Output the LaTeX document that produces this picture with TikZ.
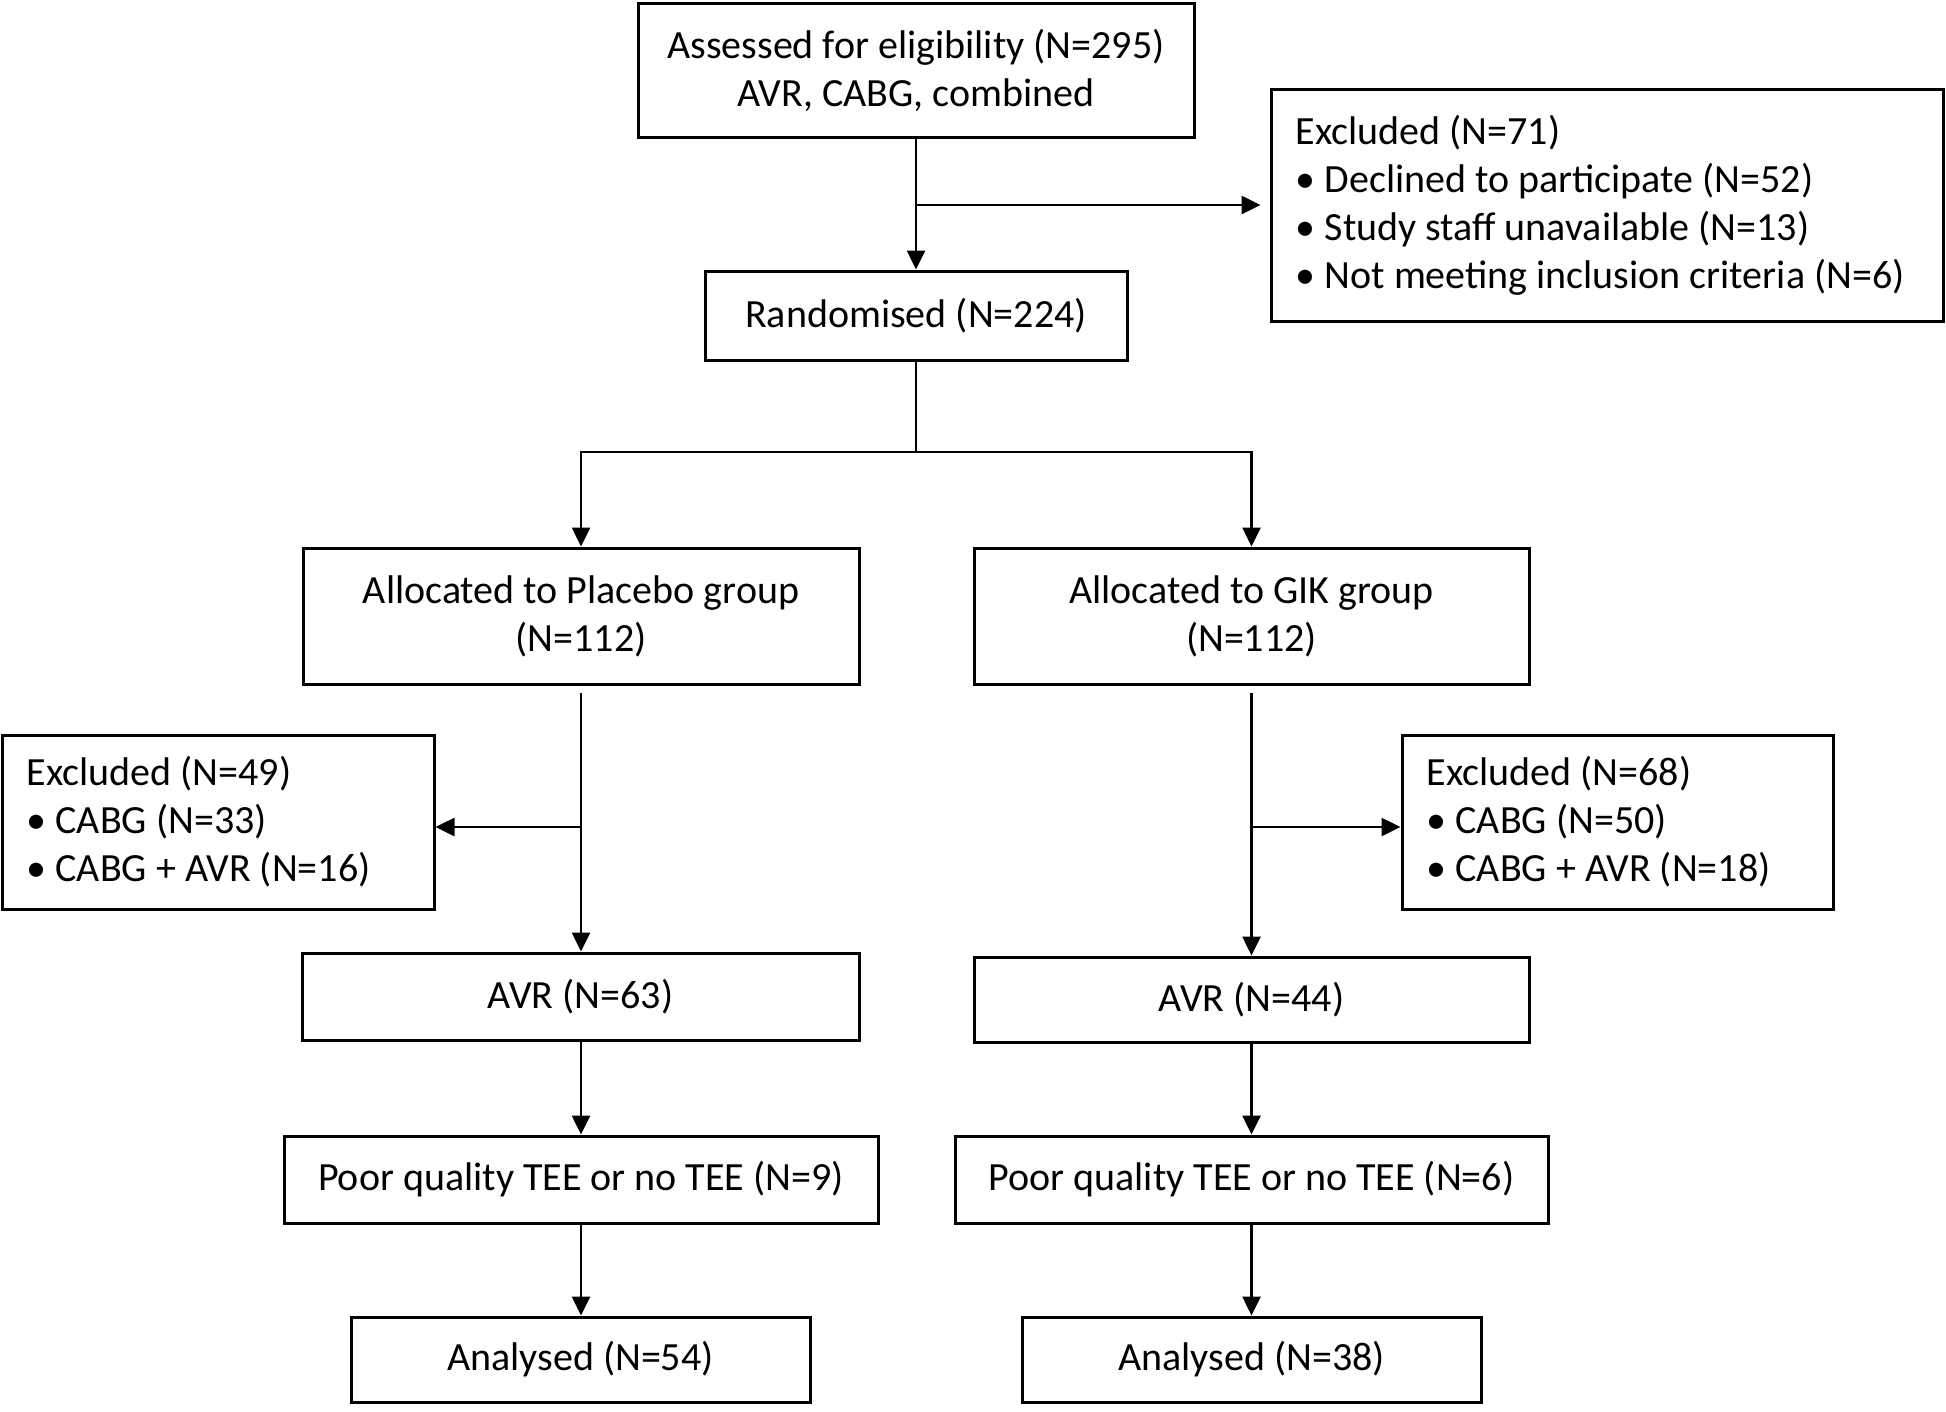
\documentclass[tikz,border=0pt]{standalone}
\usepackage{fontspec}
\setmainfont{Carlito}
\usetikzlibrary{arrows.meta}
\begin{document}
\begin{tikzpicture}[x=1pt,y=-1pt,
  box/.style={draw, line width=3pt, inner sep=0pt, align=center,
    font=\fontsize{40}{48}\selectfont},
  listtext/.style={inner sep=0pt, align=left, anchor=west,
    font=\fontsize{40}{48}\selectfont},
  conn/.style={line width=2.6pt},
  arr/.style={conn, -{Triangle[length=19pt,width=18pt]}}]
\useasboundingbox (0,0) rectangle (1946,1411);
\fill[white] (0,0) rectangle (1946,1411);

\node[box, minimum width=556, minimum height=134] (top) at (916,70)
  {Assessed for eligibility (N=295)\\AVR, CABG, combined};
\node[box, minimum width=672, minimum height=232] (ex0) at (1607,205) {};
\node[listtext] (ex0t) at ([xshift=26pt]ex0.west)
  {Excluded (N=71)\\• Declined to participate (N=52)\\• Study staff unavailable (N=13)\\• Not meeting inclusion criteria (N=6)};
\node[box, minimum width=422, minimum height=89] (rand) at (916,315.5) {Randomised (N=224)};

\node[box, minimum width=556, minimum height=136] (plac) at (581,616)
  {Allocated to Placebo group\\(N=112)};
\node[box, minimum width=555, minimum height=136] (gik) at (1251.5,616)
  {Allocated to GIK group\\(N=112)};

\node[box, minimum width=432, minimum height=174] (exL) at (218,822) {};
\node[listtext] (exLt) at ([xshift=26pt]exL.west)
  {Excluded (N=49)\\• CABG (N=33)\\• CABG + AVR (N=16)};
\node[box, minimum width=431, minimum height=174] (exR) at (1617.5,822) {};
\node[listtext] (exRt) at ([xshift=26pt]exR.west)
  {Excluded (N=68)\\• CABG (N=50)\\• CABG + AVR (N=18)};

\node[box, minimum width=557, minimum height=87] (avrL) at (580.5,996.5) {AVR (N=63)};
\node[box, minimum width=555, minimum height=85] (avrR) at (1251.5,999.5) {AVR (N=44)};

\node[box, minimum width=594, minimum height=87] (poorL) at (581,1179.5) {Poor quality TEE or no TEE (N=9)};
\node[box, minimum width=593, minimum height=87] (poorR) at (1251.5,1179.5) {Poor quality TEE or no TEE (N=6)};

\node[box, minimum width=459, minimum height=85] (anL) at (580.5,1359.5) {Analysed (N=54)};
\node[box, minimum width=459, minimum height=85] (anR) at (1251.5,1359.5) {Analysed (N=38)};

% top part
\coordinate (b0) at (916,205);
\draw[arr] (top.south) -- (rand.north);
\draw[arr, shorten >=9pt] (b0) -- (ex0.west |- b0);
\coordinate (split) at (916,452);
\draw[conn] (rand.south) -- (split);
\draw[arr] (split) -| (plac.north);
\draw[arr] (split) -| (gik.north);

% placebo arm
\coordinate (pL) at (581,693);
\coordinate (bL) at (581,827);
\draw[arr] (pL) -- (avrL.north -| pL);
\draw[arr] (bL) -- (exL.east |- bL);
% GIK arm
\coordinate (pR) at (1251.5,693);
\coordinate (bR) at (1251.5,827);
\draw[arr] (pR) -- (avrR.north -| pR);
\draw[arr] (bR) -- (exR.west |- bR);

\draw[arr] (avrL.south -| pL) -- (poorL.north -| pL);
\draw[arr] (poorL.south -| pL) -- (anL.north -| pL);
\draw[arr] (avrR.south -| pR) -- (poorR.north -| pR);
\draw[arr] (poorR.south -| pR) -- (anR.north -| pR);
\end{tikzpicture}
\end{document}
